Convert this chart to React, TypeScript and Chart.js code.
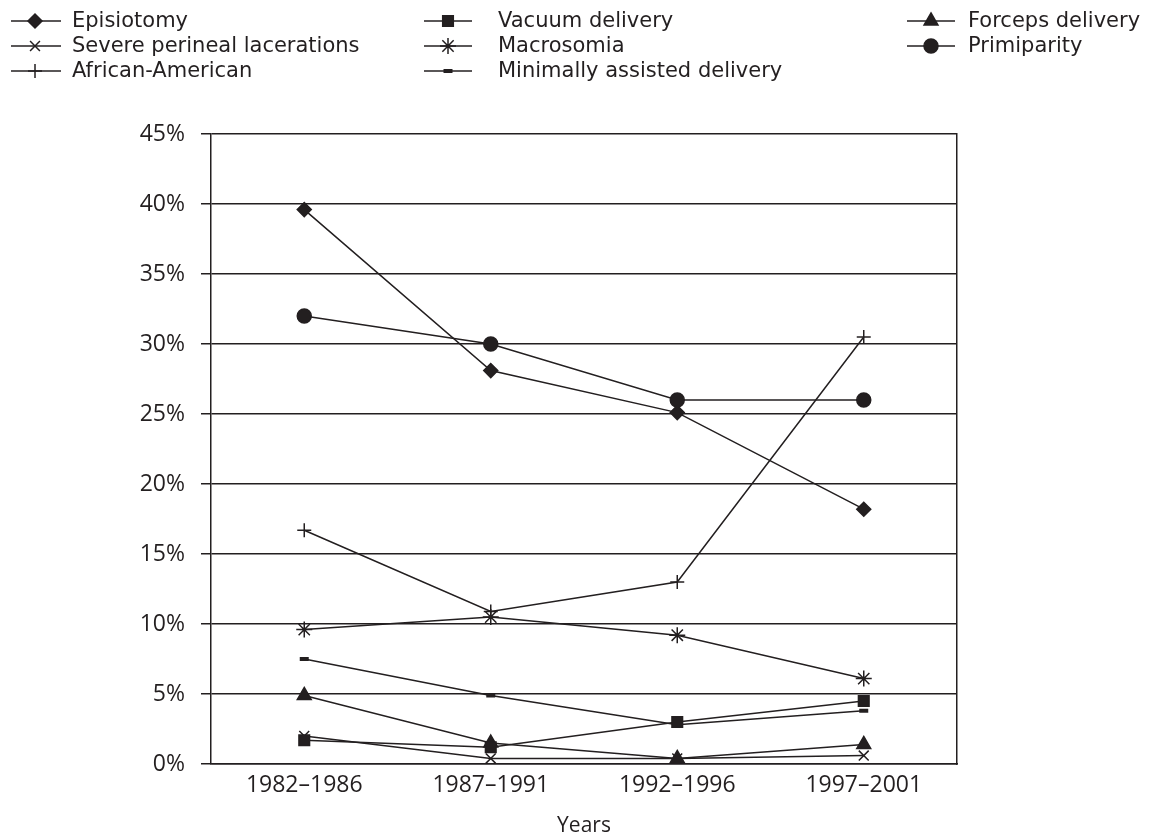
import React, { useEffect, useRef } from 'react';
import Chart from 'chart.js/auto';
import { drawPoint } from 'chart.js/helpers';

const categories = ['1982–1986', '1987–1991', '1992–1996', '1997–2001'];
const seriesNames = [
  'Episiotomy',
  'Vacuum delivery',
  'Forceps delivery',
  'Severe perineal lacerations',
  'Macrosomia',
  'Primiparity',
  'African-American',
  'Minimally assisted delivery',
];
const episiotomy = [39.6, 28.1, 25.1, 18.2];
const vacuumDelivery = [1.7, 1.2, 3.0, 4.5];
const forcepsDelivery = [4.9, 1.5, 0.4, 1.4];
const severeLacerations = [2.0, 0.4, 0.4, 0.6];
const macrosomia = [9.6, 10.5, 9.2, 6.1];
const primiparity = [32.0, 30.0, 26.0, 26.0];
const africanAmerican = [16.7, 10.9, 13.0, 30.5];
const minimallyAssisted = [7.5, 4.9, 2.8, 3.8];
const yTickValues = [0, 5, 10, 15, 20, 25, 30, 35, 40, 45];
const xTitle = 'Years';

const INK = '#231f20';
const FONT = '"Open Sans", "DejaVu Sans", sans-serif';
const LEGEND_FONT = '"DejaVu Sans", sans-serif';

const seriesValues = [
  episiotomy,
  vacuumDelivery,
  forcepsDelivery,
  severeLacerations,
  macrosomia,
  primiparity,
  africanAmerican,
  minimallyAssisted,
];

const markerStyles = [
  { pointStyle: 'rectRot', radius: 7, borderWidth: 1.5 },
  { pointStyle: 'rect', radius: 7.5, borderWidth: 1.5 },
  { pointStyle: 'triangle', radius: 8, borderWidth: 1.5 },
  { pointStyle: 'crossRot', radius: 7, borderWidth: 1.5 },
  { pointStyle: 'star', radius: 8, borderWidth: 1.5 },
  { pointStyle: 'circle', radius: 7, borderWidth: 1.5 },
  { pointStyle: 'cross', radius: 7, borderWidth: 1.5 },
  { pointStyle: 'line', radius: 4.5, borderWidth: 4 },
];

const legendCols = [
  { x1: 11, x2: 61, mx: 35, tx: 72 },
  { x1: 424, x2: 472, mx: 448, tx: 498 },
  { x1: 907, x2: 955, mx: 931, tx: 968 },
];
const legendRows = [21, 46, 71];

const legendPlugin = {
  id: 'customLegend',
  afterDraw(chart: any) {
    const ctx = chart.ctx;
    ctx.save();
    chart.data.datasets.forEach((ds: any, i: number) => {
      const col = legendCols[i % 3];
      const y = legendRows[Math.floor(i / 3)];
      ctx.strokeStyle = INK;
      ctx.fillStyle = INK;
      ctx.lineWidth = 1.5;
      ctx.beginPath();
      ctx.moveTo(col.x1, y);
      ctx.lineTo(col.x2, y);
      ctx.stroke();
      const m = markerStyles[i];
      ctx.lineWidth = m.borderWidth;
      drawPoint(ctx, { pointStyle: m.pointStyle, radius: m.radius, borderWidth: m.borderWidth, rotation: 0 } as any, col.mx, y);
      ctx.fillStyle = INK;
      ctx.font = `21px ${LEGEND_FONT}`;
      ctx.textBaseline = 'middle';
      ctx.textAlign = 'left';
      ctx.fillText(ds.label, col.tx, y + 1);
    });
    ctx.restore();
  },
};

export default function App() {
  const canvasRef = useRef<HTMLCanvasElement | null>(null);

  useEffect(() => {
    if (!canvasRef.current) return;
    const chart = new Chart(canvasRef.current, {
      type: 'line',
      data: {
        labels: categories,
        datasets: seriesValues.map((vals, i) => ({
          label: seriesNames[i],
          data: vals,
          borderColor: INK,
          backgroundColor: INK,
          borderWidth: 1.5,
          pointStyle: markerStyles[i].pointStyle as any,
          pointRadius: markerStyles[i].radius,
          pointHoverRadius: markerStyles[i].radius,
          pointBorderWidth: markerStyles[i].borderWidth,
          pointBackgroundColor: INK,
          pointBorderColor: INK,
          tension: 0,
          fill: false,
        })),
      },
      options: {
        animation: false,
        responsive: false,
        devicePixelRatio: 1,
        layout: { padding: { top: 134, left: 0, right: 208, bottom: 0 } },
        plugins: {
          legend: { display: false },
          tooltip: { enabled: false },
        },
        scales: {
          x: {
            type: 'category',
            offset: true,
            grid: { display: false, drawTicks: false },
            border: { display: true, color: INK, width: 1.5 },
            ticks: {
              color: INK,
              font: { family: FONT, size: 23 },
              padding: 8,
              maxRotation: 0,
              autoSkip: false,
            },
            title: {
              display: true,
              text: xTitle,
              color: INK,
              font: { family: FONT, size: 21, lineHeight: 0.8 },
              padding: { top: 0, bottom: 0 },
            },
            afterFit(scale: any) {
              scale.height = 70;
            },
          },
          y: {
            type: 'linear',
            min: 0,
            max: 45,
            afterBuildTicks(scale: any) {
              scale.ticks = yTickValues.map((v) => ({ value: v }));
            },
            grid: {
              color: INK,
              lineWidth: 1.5,
              drawTicks: true,
              tickLength: 10,
            },
            border: { display: true, color: INK, width: 1.5 },
            ticks: {
              color: INK,
              font: { family: FONT, size: 23 },
              padding: 16,
              callback: (v: any) => `${v}%`,
            },
            afterFit(scale: any) {
              scale.width = 211;
            },
          },
          yRight: {
            type: 'linear',
            position: 'right',
            min: 0,
            max: 45,
            grid: { drawOnChartArea: false, drawTicks: false },
            border: { display: true, color: INK, width: 1.5 },
            ticks: { display: false },
            afterFit(scale: any) {
              scale.width = 0;
            },
          },
        },
      },
      plugins: [legendPlugin],
    });
    return () => chart.destroy();
  }, []);

  return (
    <div style={{ position: 'fixed', left: 0, top: 0, width: 1165, height: 834, background: '#fff' }}>
      <canvas ref={canvasRef} width={1165} height={834} style={{ display: 'block', width: 1165, height: 834 }} />
    </div>
  );
}
